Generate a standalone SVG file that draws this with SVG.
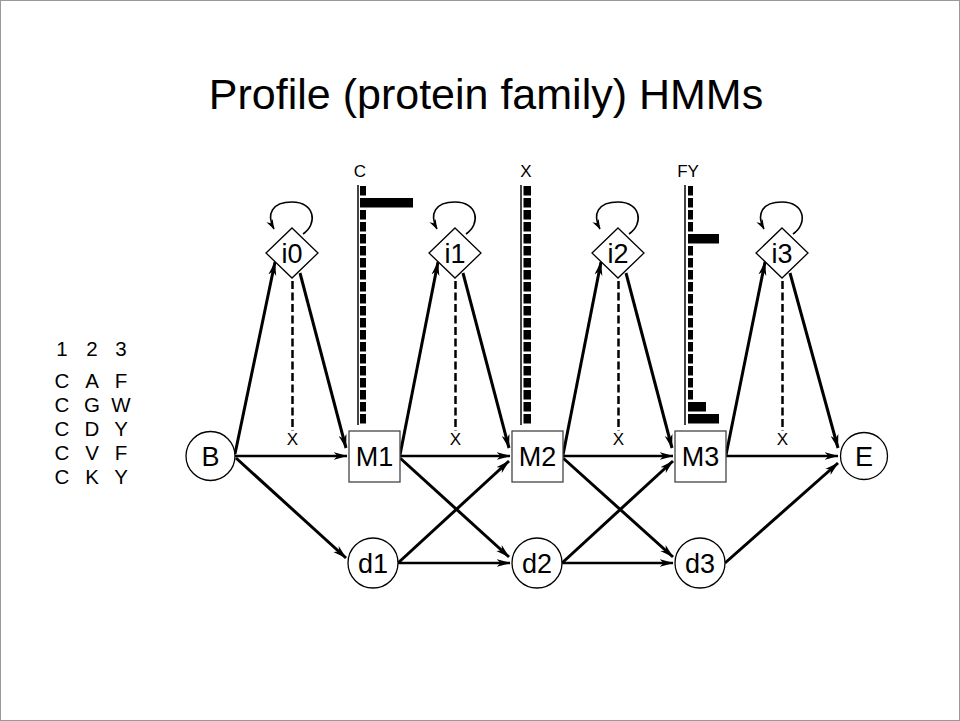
<svg xmlns="http://www.w3.org/2000/svg" width="960" height="721" viewBox="0 0 960 721">
  <defs>
    <marker id="ah" markerUnits="userSpaceOnUse" markerWidth="14" markerHeight="9" viewBox="0 0 14 9" refX="13.5" refY="4.5" orient="auto">
      <path d="M0,0.5 L14,4.5 L0,8.5 L4,4.5 Z" fill="#000"/>
    </marker>
    <marker id="ahs" markerUnits="userSpaceOnUse" markerWidth="10" markerHeight="8" viewBox="0 0 10 8" refX="9.5" refY="4" orient="auto">
      <path d="M0,0.5 L10,4 L0,7.5 L3,4 Z" fill="#000"/>
    </marker>
  </defs>
  <style>
    text { font-family: "Liberation Sans", Arial, Helvetica, sans-serif; fill: #000; }
    .title { font-size: 43px; text-anchor: middle; }
    .lbl { font-size: 27px; text-anchor: middle; }
    .aln { font-size: 20.5px; text-anchor: middle; }
    .sm { font-size: 17px; text-anchor: middle; }
    .node { fill: #fff; stroke: #000; stroke-width: 1.3; }
    .box { fill: #fff; stroke: #444; stroke-width: 1.3; }
    .e { fill: none; stroke: #000; stroke-width: 3; marker-end: url(#ah); }
    .h { fill: none; stroke: #000; stroke-width: 2.3; marker-end: url(#ah); }
    .loop { fill: none; stroke: #000; stroke-width: 1.6; marker-end: url(#ahs); }
    .emit { fill: none; stroke: #000; stroke-width: 2.5; stroke-dasharray: 8 3.5; }
    .axis { stroke: #444; stroke-width: 2; }
    .bar { fill: #000; }
  </style>

  <rect x="0.5" y="0.5" width="959" height="720" fill="#fff" stroke="#999" stroke-width="1"/>

  <text class="title" x="486" y="109">Profile (protein family) HMMs</text>

  <!-- alignment: one text per column, header then residues -->
  <g id="alignment">
    <text class="aln"><tspan x="62" y="356">1</tspan><tspan x="62" y="388">C</tspan><tspan x="62" y="412">C</tspan><tspan x="62" y="436">C</tspan><tspan x="62" y="460">C</tspan><tspan x="62" y="484">C</tspan></text>
    <text class="aln"><tspan x="92" y="356">2</tspan><tspan x="92" y="388">A</tspan><tspan x="92" y="412">G</tspan><tspan x="92" y="436">D</tspan><tspan x="92" y="460">V</tspan><tspan x="92" y="484">K</tspan></text>
    <text class="aln"><tspan x="121" y="356">3</tspan><tspan x="121" y="388">F</tspan><tspan x="121" y="412">W</tspan><tspan x="121" y="436">Y</tspan><tspan x="121" y="460">F</tspan><tspan x="121" y="484">Y</tspan></text>
  </g>

  <!-- emission histograms of the match states -->
  <g id="hist1">
    <text class="sm" x="360" y="177">C</text>
    <line class="axis" x1="358" y1="185" x2="358" y2="425"/>
    <rect class="bar" x="360" y="186" width="6" height="9.5"/>
    <rect class="bar" x="360" y="198" width="53" height="9.5"/>
    <rect class="bar" x="360" y="210" width="6" height="9.5"/>
    <rect class="bar" x="360" y="222" width="6" height="9.5"/>
    <rect class="bar" x="360" y="234" width="6" height="9.5"/>
    <rect class="bar" x="360" y="246" width="6" height="9.5"/>
    <rect class="bar" x="360" y="258" width="6" height="9.5"/>
    <rect class="bar" x="360" y="270" width="6" height="9.5"/>
    <rect class="bar" x="360" y="282" width="6" height="9.5"/>
    <rect class="bar" x="360" y="294" width="6" height="9.5"/>
    <rect class="bar" x="360" y="306" width="6" height="9.5"/>
    <rect class="bar" x="360" y="318" width="6" height="9.5"/>
    <rect class="bar" x="360" y="330" width="6" height="9.5"/>
    <rect class="bar" x="360" y="342" width="6" height="9.5"/>
    <rect class="bar" x="360" y="354" width="6" height="9.5"/>
    <rect class="bar" x="360" y="366" width="6" height="9.5"/>
    <rect class="bar" x="360" y="378" width="6" height="9.5"/>
    <rect class="bar" x="360" y="390" width="6" height="9.5"/>
    <rect class="bar" x="360" y="402" width="6" height="9.5"/>
    <rect class="bar" x="360" y="414" width="6" height="9.5"/>
  </g>
  <g id="hist2">
    <text class="sm" x="526" y="177">X</text>
    <line class="axis" x1="521" y1="185" x2="521" y2="425"/>
    <rect class="bar" x="523.5" y="186" width="7.5" height="9.5"/>
    <rect class="bar" x="523.5" y="198" width="7.5" height="9.5"/>
    <rect class="bar" x="523.5" y="210" width="7.5" height="9.5"/>
    <rect class="bar" x="523.5" y="222" width="7.5" height="9.5"/>
    <rect class="bar" x="523.5" y="234" width="7.5" height="9.5"/>
    <rect class="bar" x="523.5" y="246" width="7.5" height="9.5"/>
    <rect class="bar" x="523.5" y="258" width="7.5" height="9.5"/>
    <rect class="bar" x="523.5" y="270" width="7.5" height="9.5"/>
    <rect class="bar" x="523.5" y="282" width="7.5" height="9.5"/>
    <rect class="bar" x="523.5" y="294" width="7.5" height="9.5"/>
    <rect class="bar" x="523.5" y="306" width="7.5" height="9.5"/>
    <rect class="bar" x="523.5" y="318" width="7.5" height="9.5"/>
    <rect class="bar" x="523.5" y="330" width="7.5" height="9.5"/>
    <rect class="bar" x="523.5" y="342" width="7.5" height="9.5"/>
    <rect class="bar" x="523.5" y="354" width="7.5" height="9.5"/>
    <rect class="bar" x="523.5" y="366" width="7.5" height="9.5"/>
    <rect class="bar" x="523.5" y="378" width="7.5" height="9.5"/>
    <rect class="bar" x="523.5" y="390" width="7.5" height="9.5"/>
    <rect class="bar" x="523.5" y="402" width="7.5" height="9.5"/>
    <rect class="bar" x="523.5" y="414" width="7.5" height="9.5"/>
  </g>
  <g id="hist3">
    <text class="sm" x="688" y="177">FY</text>
    <line class="axis" x1="685" y1="185" x2="685" y2="425"/>
    <rect class="bar" x="688" y="186" width="5" height="9.5"/>
    <rect class="bar" x="688" y="198" width="5" height="9.5"/>
    <rect class="bar" x="688" y="210" width="5" height="9.5"/>
    <rect class="bar" x="688" y="222" width="5" height="9.5"/>
    <rect class="bar" x="688" y="234" width="31" height="9.5"/>
    <rect class="bar" x="688" y="246" width="5" height="9.5"/>
    <rect class="bar" x="688" y="258" width="5" height="9.5"/>
    <rect class="bar" x="688" y="270" width="5" height="9.5"/>
    <rect class="bar" x="688" y="282" width="5" height="9.5"/>
    <rect class="bar" x="688" y="294" width="5" height="9.5"/>
    <rect class="bar" x="688" y="306" width="5" height="9.5"/>
    <rect class="bar" x="688" y="318" width="5" height="9.5"/>
    <rect class="bar" x="688" y="330" width="5" height="9.5"/>
    <rect class="bar" x="688" y="342" width="5" height="9.5"/>
    <rect class="bar" x="688" y="354" width="5" height="9.5"/>
    <rect class="bar" x="688" y="366" width="5" height="9.5"/>
    <rect class="bar" x="688" y="378" width="5" height="9.5"/>
    <rect class="bar" x="688" y="390" width="5" height="9.5"/>
    <rect class="bar" x="688" y="402" width="18" height="9.5"/>
    <rect class="bar" x="688" y="414" width="31" height="9.5"/>
  </g>

  <!-- transitions -->
  <g id="connectors">
    <!-- into insert states -->
    <path class="e" d="M235,454 L275,262"/>
    <path class="e" d="M400,455 L438,262"/>
    <path class="e" d="M563,455 L601,262"/>
    <path class="e" d="M726,455 L765,262"/>
    <!-- out of insert states -->
    <path class="e" d="M300,273 L346,448"/>
    <path class="e" d="M463,273 L509,448"/>
    <path class="e" d="M626,273 L672,448"/>
    <path class="e" d="M790,273 L838,448"/>
    <!-- match to match -->
    <path class="h" d="M235,456 L347,456"/>
    <path class="h" d="M400,456 L510,456"/>
    <path class="h" d="M563,456 L673,456"/>
    <path class="h" d="M726,456 L838,456"/>
    <!-- match to delete -->
    <path class="e" d="M236,458 L346,558"/>
    <path class="e" d="M400,458 L509,557"/>
    <path class="e" d="M563,458 L673,557"/>
    <!-- delete to match -->
    <path class="e" d="M398,563 L509,461"/>
    <path class="e" d="M562,563 L673,461"/>
    <path class="e" d="M725,563 L838,463"/>
    <!-- delete to delete -->
    <path class="h" d="M398,563 L510,563"/>
    <path class="h" d="M562,563 L673,563"/>
    <!-- insert self loops -->
    <path class="loop" d="M303,234 C318,224 315,202 292,202 C272,202 266,214 274,229"/>
    <path class="loop" d="M466,234 C481,224 478,202 455,202 C435,202 429,214 437,229"/>
    <path class="loop" d="M629,234 C644,224 641,202 618,202 C598,202 592,214 600,229"/>
    <path class="loop" d="M793,234 C808,224 805,202 782,202 C762,202 756,214 764,229"/>
    <!-- insert emissions -->
    <line class="emit" x1="292.5" y1="281" x2="292.5" y2="431"/>
    <line class="emit" x1="455.5" y1="281" x2="455.5" y2="431"/>
    <line class="emit" x1="618.5" y1="281" x2="618.5" y2="431"/>
    <line class="emit" x1="782.5" y1="281" x2="782.5" y2="431"/>
    <text class="sm" x="292.5" y="445">X</text>
    <text class="sm" x="455.5" y="445">X</text>
    <text class="sm" x="618.5" y="445">X</text>
    <text class="sm" x="782.5" y="445">X</text>
  </g>

  <!-- states -->
  <g id="B"><circle class="node" cx="210.5" cy="456" r="24.5"/><text class="lbl" x="210.5" y="466">B</text></g>
  <g id="E"><circle class="node" cx="864" cy="456" r="23.5"/><text class="lbl" x="864" y="466">E</text></g>

  <g id="M1"><rect class="box" x="349" y="431" width="51" height="51"/><text class="lbl" x="374.5" y="466">M1</text></g>
  <g id="M2"><rect class="box" x="512" y="431" width="51" height="51"/><text class="lbl" x="537.5" y="466">M2</text></g>
  <g id="M3"><rect class="box" x="675" y="431" width="51" height="51"/><text class="lbl" x="700.5" y="466">M3</text></g>

  <g id="d1"><circle class="node" cx="373" cy="563" r="25"/><text class="lbl" x="373" y="573">d1</text></g>
  <g id="d2"><circle class="node" cx="537" cy="563" r="25"/><text class="lbl" x="537" y="573">d2</text></g>
  <g id="d3"><circle class="node" cx="700" cy="563" r="25"/><text class="lbl" x="700" y="573">d3</text></g>

  <g id="i0"><path class="node" d="M292,228 L318,253 L292,278 L266,253 Z"/><text class="lbl" x="292" y="263">i0</text></g>
  <g id="i1"><path class="node" d="M455,228 L481,253 L455,278 L429,253 Z"/><text class="lbl" x="455" y="263">i1</text></g>
  <g id="i2"><path class="node" d="M618,228 L644,253 L618,278 L592,253 Z"/><text class="lbl" x="618" y="263">i2</text></g>
  <g id="i3"><path class="node" d="M782,228 L808,253 L782,278 L756,253 Z"/><text class="lbl" x="782" y="263">i3</text></g>
</svg>
